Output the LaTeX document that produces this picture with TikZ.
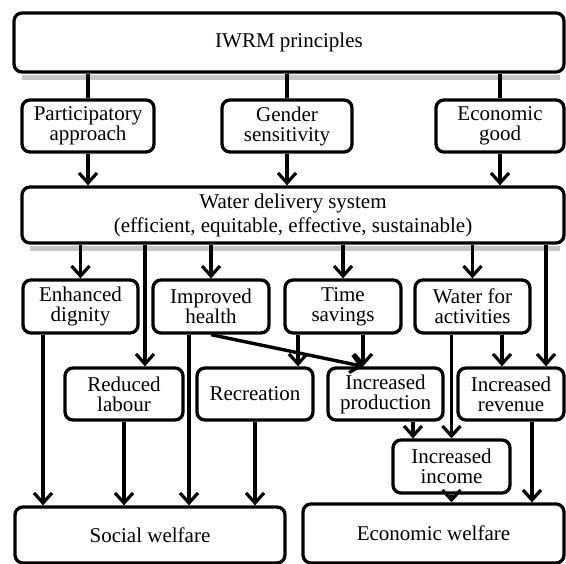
\documentclass[tikz,border=0pt]{standalone}
\usepackage{fontspec}
\setmainfont{Liberation Serif}
\usetikzlibrary{arrows.meta}

\begin{document}
\begin{tikzpicture}[x=1pt, y=-1pt,
    box/.style={rectangle, draw, fill=white, rounded corners=8pt, line width=3.3pt, align=center, inner sep=2pt, minimum height=52pt, font=\fontsize{21}{20}\selectfont},
    band/.style={fill=gray!45},
    link/.style={line width=3.4pt},
    flow/.style={line width=3.4pt, -{Straight Barb[length=10pt,width=18pt,line width=3.2pt]}}]
    \useasboundingbox (0,0) rectangle (566,564);

    % Principles
    \node [box, minimum width=550pt, minimum height=59pt] (iwrm) at (289,42.5) {IWRM principles};
    \node [box, minimum width=132pt] (part) at (88,126) {Participatory\\approach};
    \node [box, minimum width=130pt] (gender) at (287,126) {Gender\\sensitivity};
    \node [box, minimum width=128pt] (econ) at (500,126) {Economic\\good};

    % Delivery system
    \node [box, minimum width=542pt, minimum height=56pt, font=\fontsize{21}{24}\selectfont] (wds) at (293,215) {Water delivery system\\(efficient, equitable, effective, sustainable)};

    % Grey bands under the two wide boxes
    \fill[band] ([xshift=10pt,yshift=-1.8pt]iwrm.south west) rectangle ([xshift=-6pt,yshift=-6.5pt]iwrm.south east);
    \fill[band] ([xshift=10pt,yshift=-1.8pt]wds.south west) rectangle ([xshift=-6pt,yshift=-6.5pt]wds.south east);

    % Benefits
    \node [box, minimum width=115pt, minimum height=53pt] (dign) at (80.5,306.5) {Enhanced\\dignity};
    \node [box, minimum width=116pt, minimum height=53pt] (health) at (211,306.5) {Improved\\health};
    \node [box, minimum width=116pt, minimum height=53pt] (time) at (343,306.5) {Time\\savings};
    \node [box, minimum width=115pt, minimum height=53pt] (wact) at (472.5,306.5) {Water for\\activities};
    \node [box, minimum width=118pt] (labour) at (124,394) {Reduced\\labour};
    \node [box, minimum width=116pt] (recr) at (255,394) {Recreation};
    \node [box, minimum width=115pt] (prod) at (385.5,394) {Increased\\production};
    \node [box, minimum width=106pt] (rev) at (511,394) {Increased\\revenue};
    \node [box, minimum width=117pt, minimum height=53pt] (income) at (451.5,466.5) {Increased\\income};

    % Welfare
    \node [box, minimum width=270pt, minimum height=56pt] (social) at (150,535) {Social welfare};
    \node [box, minimum width=261pt, minimum height=59pt] (econw) at (433.5,533.5) {Economic welfare};

    % Arrows
    \draw[link] (iwrm.south -| part.north) -- (part.north);
    \draw[link] (iwrm.south -| gender.north) -- (gender.north);
    \draw[link] (iwrm.south -| econ.north) -- (econ.north);
    \draw[flow] (part.south) -- (part.south |- wds.north);
    \draw[flow] (gender.south) -- (gender.south |- wds.north);
    \draw[flow] (econ.south) -- (econ.south |- wds.north);

    \draw[flow] (wds.south -| dign.north) -- (dign.north);
    \draw[flow] ([xshift=21pt]labour.north |- wds.south) -- ([xshift=21pt]labour.north);
    \draw[flow] (wds.south -| health.north) -- (health.north);
    \draw[flow] (wds.south -| time.north) -- (time.north);
    \draw[flow] (wds.south -| wact.north) -- (wact.north);
    \draw[flow] ([xshift=35pt]rev.north |- wds.south) -- ([xshift=35pt]rev.north);

    \draw[flow] (health.south) -- ([xshift=-22.5pt]prod.north);
    \draw[flow] ([xshift=-45pt]time.south) -- ([xshift=-45pt]time.south |- recr.north);
    \draw[flow] ([xshift=20pt]time.south) -- ([xshift=20pt]time.south |- prod.north);
    \draw[flow] (wact.south -| income.north) -- (income.north);
    \draw[flow] ([xshift=29.5pt]wact.south) -- ([xshift=29.5pt]wact.south |- rev.north);
    \draw[flow] ([xshift=-38.5pt]income.north |- prod.south) -- ([xshift=-38.5pt]income.north);

    \draw[flow] ([xshift=-37.5pt]dign.south) -- ([xshift=-37.5pt]dign.south |- social.north);
    \draw[flow] (labour.south) -- (labour.south |- social.north);
    \draw[flow] ([xshift=-22pt]health.south) -- ([xshift=-22pt]health.south |- social.north);
    \draw[flow] (recr.south) -- (recr.south |- social.north);
    \draw[flow] (income.south) -- (income.south |- econw.north);
    \draw[flow] ([xshift=21pt]rev.south) -- ([xshift=21pt]rev.south |- econw.north);
\end{tikzpicture}
\end{document}
